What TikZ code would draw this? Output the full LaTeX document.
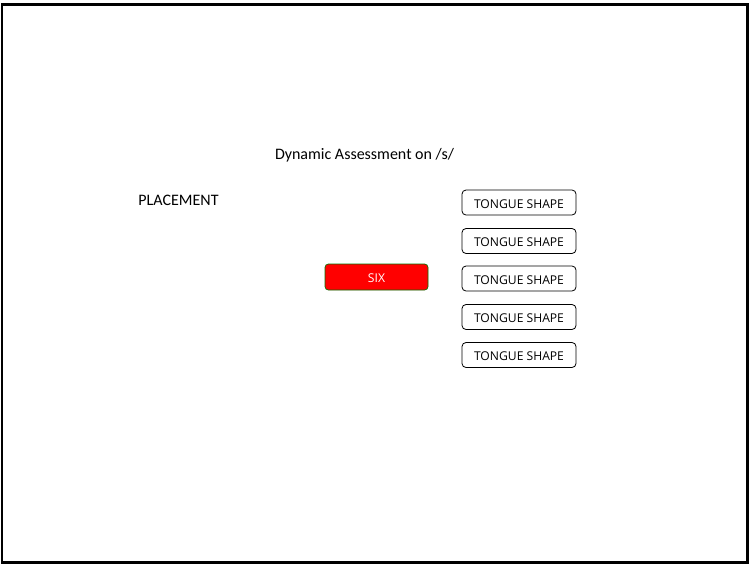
\documentclass[tikz,border=0pt]{standalone}
\usepackage{fontspec}
\setmainfont{Carlito}
\newfontfamily\boxfont{Open Sans}
\begin{document}
\begin{tikzpicture}[x=0.75pt,y=-0.75pt,
  boxlabel/.style={inner sep=0pt,text height=8.8pt,text depth=0pt,font=\boxfont\fontsize{9.1}{10}\selectfont},
  tbox/.style={boxlabel,draw=black,fill=white,rounded corners=3pt,line width=0.6pt,
    minimum width=114*0.75pt,minimum height=25*0.75pt},
  redbox/.style={boxlabel,draw=green!45!black,fill=red,rounded corners=2.5pt,line width=0.5pt,
    minimum width=103*0.75pt,minimum height=26*0.75pt,text=white}]
\useasboundingbox (0,0) rectangle (750,565);
\draw[line width=1.6pt] (2,4.5) rectangle (747.5,562.5);
\node[font=\fontsize{12}{14}\selectfont] (title) at (364.5,155) {Dynamic Assessment on /s/};
\node[font=\fontsize{12}{14}\selectfont] (place) at (178.5,200) {PLACEMENT};
\node[redbox] (six) at (376.5,277) {SIX};
\node[tbox] (t1) at (519,202.5) {TONGUE SHAPE};
\node[tbox] (t2) at (519,241) {TONGUE SHAPE};
\node[tbox] (t3) at (519,278.5) {TONGUE SHAPE};
\node[tbox] (t4) at (519,317) {TONGUE SHAPE};
\node[tbox] (t5) at (519,355) {TONGUE SHAPE};
\end{tikzpicture}
\end{document}
